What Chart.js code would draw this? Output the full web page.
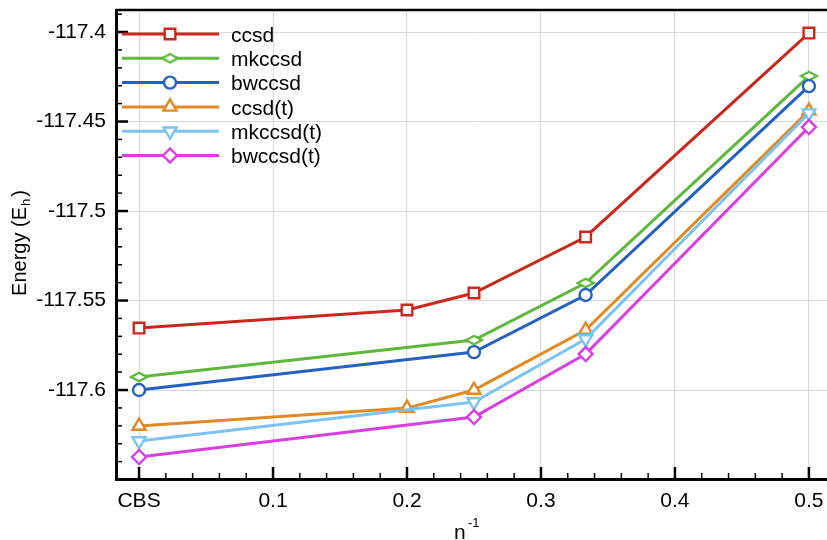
<!DOCTYPE html>
<html>
<head>
<meta charset="utf-8">
<title>Energy vs n^-1</title>
<script src="https://cdn.jsdelivr.net/npm/chart.js@4.4.1/dist/chart.umd.min.js"></script>
<style>
    html, body { margin: 0; padding: 0; background: #fff; }
    #chartBox { width: 827px; height: 540px; }
</style>
</head>
<body>
<div id="chartBox"><canvas id="energyChart" width="827" height="540"></canvas></div>
<script>
// x positions (n^-1); CBS is plotted at 0
const xWithDZ = [0, 0.2, 0.25, 1 / 3, 0.5];
const xNoDZ = [0, 0.25, 1 / 3, 0.5];

// energies (E_h)
const ccsd      = [-117.5654, -117.5553, -117.5458, -117.5145, -117.4006];
const mkccsd    = [-117.5927, -117.5721, -117.5402, -117.4246];
const bwccsd    = [-117.6000, -117.5788, -117.5469, -117.4302];
const ccsdT     = [-117.6201, -117.6101, -117.6000, -117.5665, -117.4440];
const mkccsdT   = [-117.6285, -117.6067, -117.5715, -117.4453];
const bwccsdT   = [-117.6374, -117.6151, -117.5799, -117.4531];

const seriesNames = ['ccsd', 'mkccsd', 'bwccsd', 'ccsd(t)', 'mkccsd(t)', 'bwccsd(t)'];

// tick labels
const xTickValues = [0, 0.1, 0.2, 0.3, 0.4, 0.5];
const xTickLabels = ['CBS', '0.1', '0.2', '0.3', '0.4', '0.5'];
const yTickValues = [-117.6, -117.55, -117.5, -117.45, -117.4];
const yTickLabels = ['-117.6', '-117.55', '-117.5', '-117.45', '-117.4'];

const FONT = '"Liberation Sans", Arial, Helvetica, sans-serif';

// flat diamond marker used by mkccsd
function flatDiamond(color) {
    const c = document.createElement('canvas');
    c.width = 20;
    c.height = 12;
    const g = c.getContext('2d');
    g.beginPath();
    g.moveTo(2, 6);
    g.lineTo(10, 1.8);
    g.lineTo(18, 6);
    g.lineTo(10, 10.2);
    g.closePath();
    g.fillStyle = '#fff';
    g.fill();
    g.lineWidth = 2.4;
    g.strokeStyle = color;
    g.stroke();
    return c;
}

function toPoints(xs, ys) {
    return xs.map(function(x, i) { return { x: x, y: ys[i] }; });
}

const colors = ['#c9291d', '#5eb83c', '#2462c2', '#e28a22', '#7dc3f2', '#d93fe0'];
const styles = ['rect', flatDiamond(colors[1]), 'circle', 'triangle', 'triangle', 'rectRot'];
const radii = [7.5, 7, 6, 7.5, 7.5, 7];
const rotations = [0, 0, 0, 0, 180, 0];
const seriesData = [
    toPoints(xWithDZ, ccsd),
    toPoints(xNoDZ, mkccsd),
    toPoints(xNoDZ, bwccsd),
    toPoints(xWithDZ, ccsdT),
    toPoints(xNoDZ, mkccsdT),
    toPoints(xNoDZ, bwccsdT)
];

const datasets = seriesNames.map(function(name, i) {
    return {
        label: name,
        data: seriesData[i],
        borderColor: colors[i],
        borderWidth: 3,
        pointStyle: styles[i],
        pointRadius: radii[i],
        pointRotation: rotations[i],
        pointBorderWidth: 2.4,
        pointBackgroundColor: '#fff',
        pointBorderColor: colors[i],
        tension: 0,
        clip: 12,
        order: seriesNames.length - i
    };
});

// inward major/minor ticks, top frame line, axis titles
const framePlugin = {
    id: 'frame',
    afterDatasetsDraw: function(chart) {
        const ctx = chart.ctx;
        const area = chart.chartArea;
        const xs = chart.scales.x;
        const ys = chart.scales.y;
        ctx.save();
        ctx.strokeStyle = '#000';

        // x ticks
        for (let k = 0; k <= 26; k++) {
            const v = k * 0.02;
            const px = xs.getPixelForValue(v);
            if (px < area.left || px > area.right) continue;
            const major = k % 5 === 0;
            ctx.lineWidth = major ? 2.5 : 1.5;
            ctx.beginPath();
            ctx.moveTo(px, area.bottom);
            ctx.lineTo(px, area.bottom - (major ? 12 : 6));
            ctx.stroke();
        }
        // y ticks
        for (let k = -66; k <= -38; k++) {
            const v = -117 + k * 0.01;
            const py = ys.getPixelForValue(v);
            if (py < area.top || py > area.bottom) continue;
            const major = k % 5 === 0;
            ctx.lineWidth = major ? 2.5 : 1.5;
            ctx.beginPath();
            ctx.moveTo(area.left, py);
            ctx.lineTo(area.left + (major ? 12 : 6), py);
            ctx.stroke();
        }
        // top frame
        ctx.lineWidth = 2.5;
        ctx.beginPath();
        ctx.moveTo(area.left, area.top);
        ctx.lineTo(area.right, area.top);
        ctx.stroke();

        // y title: Energy (E_h)
        ctx.fillStyle = '#000';
        ctx.save();
        ctx.translate(20, 243);
        ctx.rotate(-Math.PI / 2);
        ctx.textBaseline = 'middle';
        ctx.font = '20px ' + FONT;
        const part1 = 'Energy (E';
        const w1 = ctx.measureText(part1).width;
        ctx.font = '13px ' + FONT;
        const wSub = ctx.measureText('h').width;
        ctx.font = '20px ' + FONT;
        const w2 = ctx.measureText(')').width;
        let x0 = -(w1 + wSub + w2 + 3) / 2;
        ctx.textAlign = 'left';
        ctx.fillText(part1, x0, 0);
        ctx.font = '13px ' + FONT;
        ctx.fillText('h', x0 + w1 + 1, 6);
        ctx.font = '20px ' + FONT;
        ctx.fillText(')', x0 + w1 + wSub + 3, 0);
        ctx.restore();

        // x title: n^-1
        ctx.textBaseline = 'alphabetic';
        ctx.textAlign = 'left';
        ctx.font = '21px ' + FONT;
        ctx.fillText('n', 454, 539);
        ctx.font = '13px ' + FONT;
        ctx.fillText('-1', 468, 527);
        ctx.restore();
    }
};

// legend drawn inside the plot area, top left
const insideLegend = {
    id: 'insideLegend',
    afterDraw: function(chart) {
        const ctx = chart.ctx;
        ctx.save();
        chart.data.datasets.forEach(function(ds, i) {
            const y = 34 + i * 24.3;
            ctx.strokeStyle = ds.borderColor;
            ctx.lineWidth = 3;
            ctx.beginPath();
            ctx.moveTo(122, y);
            ctx.lineTo(219, y);
            ctx.stroke();
            ctx.fillStyle = '#fff';
            ctx.strokeStyle = ds.borderColor;
            ctx.lineWidth = 2.4;
            Chart.helpers.drawPoint(ctx, {
                pointStyle: ds.pointStyle,
                radius: ds.pointRadius,
                rotation: ds.pointRotation,
                borderWidth: 2.4
            }, 170, y);
            ctx.fillStyle = '#000';
            ctx.font = '21px ' + FONT;
            ctx.textBaseline = 'middle';
            ctx.textAlign = 'left';
            ctx.fillText(ds.label, 231, y + 2);
        });
        ctx.restore();
    }
};

function noPadding(scale) {
    scale.paddingLeft = 0;
    scale.paddingRight = 0;
    scale.paddingTop = 0;
    scale.paddingBottom = 0;
}

const ctx = document.getElementById('energyChart').getContext('2d');
new Chart(ctx, {
    type: 'line',
    data: { datasets: datasets },
    plugins: [framePlugin, insideLegend],
    options: {
        responsive: false,
        animation: false,
        layout: { autoPadding: false, padding: { top: 10, right: 0, left: 0, bottom: 0 } },
        plugins: {
            legend: { display: false },
            tooltip: { enabled: false }
        },
        scales: {
            x: {
                type: 'linear',
                min: -0.0172,
                max: 0.5135,
                afterBuildTicks: function(scale) {
                    scale.ticks = xTickValues.map(function(v) { return { value: v }; });
                },
                afterFit: function(scale) { scale.height = 61; noPadding(scale); },
                ticks: {
                    color: '#000',
                    padding: 10,
                    maxRotation: 0,
                    font: { family: FONT, size: 21 },
                    callback: function(value) {
                        const i = xTickValues.findIndex(function(t) { return Math.abs(t - value) < 1e-6; });
                        return i >= 0 ? xTickLabels[i] : '';
                    }
                },
                grid: { color: '#d9d9d9', lineWidth: 1, drawTicks: false },
                border: { display: true, color: '#000', width: 3 }
            },
            y: {
                type: 'linear',
                min: -117.6497,
                max: -117.3877,
                afterBuildTicks: function(scale) {
                    scale.ticks = yTickValues.map(function(v) { return { value: v }; });
                },
                afterFit: function(scale) { scale.width = 116; noPadding(scale); },
                ticks: {
                    color: '#000',
                    padding: 10,
                    font: { family: FONT, size: 21 },
                    callback: function(value) {
                        const i = yTickValues.findIndex(function(t) { return Math.abs(t - value) < 1e-6; });
                        return i >= 0 ? yTickLabels[i] : '';
                    }
                },
                grid: { color: '#d9d9d9', lineWidth: 1, drawTicks: false },
                border: { display: true, color: '#000', width: 3 }
            }
        }
    }
});
</script>
</body>
</html>
